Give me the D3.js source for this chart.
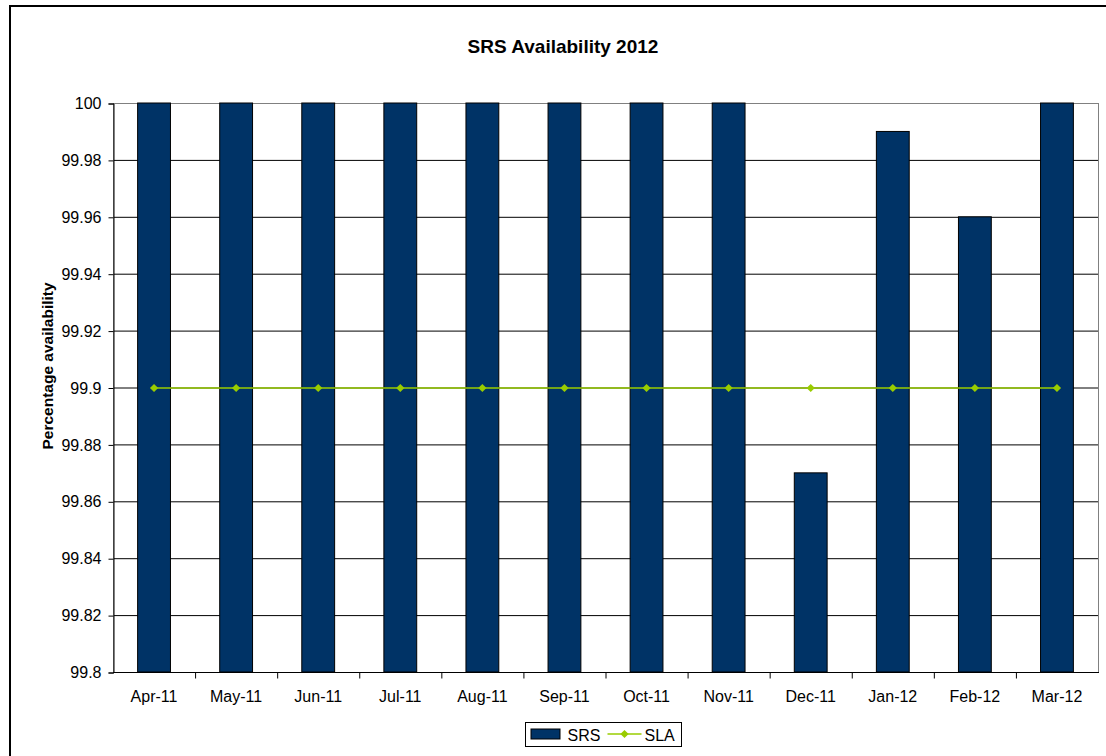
<!DOCTYPE html>
<html>
<head>
<meta charset="utf-8">
<script src="https://cdn.jsdelivr.net/npm/d3@7"></script>
<style>
  body { margin: 0; background: #fff; }
  svg text { font-family: "Liberation Sans", Arial, sans-serif; fill: #000; }
</style>
</head>
<body>
<svg id="chart" width="1106" height="756"></svg>
<script>
// dados do gráfico
var months = ["Apr-11", "May-11", "Jun-11", "Jul-11", "Aug-11", "Sep-11",
              "Oct-11", "Nov-11", "Dec-11", "Jan-12", "Feb-12", "Mar-12"];
var srsValues = [100, 100, 100, 100, 100, 100, 100, 100, 99.87, 99.99, 99.96, 100];
var slaValues = [99.9, 99.9, 99.9, 99.9, 99.9, 99.9, 99.9, 99.9, 99.9, 99.9, 99.9, 99.9];
var yTicks = [99.8, 99.82, 99.84, 99.86, 99.88, 99.9, 99.92, 99.94, 99.96, 99.98, 100];

// área do gráfico
var plot = {left: 113, top: 103, right: 1098, bottom: 672};

var svg = d3.select("#chart");

// moldura externa
svg.append("rect")
   .attr("x", 10).attr("y", 6)
   .attr("width", 1110).attr("height", 760)
   .style("fill", "none")
   .style("stroke", "#000")
   .style("stroke-width", 2);

// título
svg.append("text")
   .attr("x", 563).attr("y", 53)
   .attr("text-anchor", "middle")
   .style("font-size", "19px")
   .style("font-weight", "bold")
   .text("SRS Availability 2012");

// escalas
var xScale = d3.scaleBand()
   .domain(months)
   .range([plot.left, plot.right])
   .paddingInner(0.6)
   .paddingOuter(0.3);

var xCat = d3.scaleBand()
   .domain(months)
   .range([plot.left, plot.right]);

var yScale = d3.scaleLinear()
   .domain([99.8, 100])
   .range([plot.bottom, plot.top]);

// linhas de grade
svg.append("g")
   .selectAll("line")
   .data(yTicks.slice(1))
   .enter().append("line")
   .attr("x1", plot.left).attr("x2", plot.right)
   .attr("y1", function(d) { return yScale(d) + 0.5; })
   .attr("y2", function(d) { return yScale(d) + 0.5; })
   .style("stroke", "#000")
   .style("stroke-width", 1);

// borda da área do gráfico
svg.append("rect")
   .attr("x", plot.left + 0.5).attr("y", plot.top + 0.5)
   .attr("width", plot.right - plot.left).attr("height", plot.bottom - plot.top)
   .style("fill", "none")
   .style("stroke", "#808080")
   .style("stroke-width", 1);

// barras SRS
svg.append("g")
   .selectAll("rect")
   .data(srsValues)
   .enter().append("rect")
   .attr("x", function(d, i) { return xScale(months[i]); })
   .attr("y", function(d) { return yScale(d); })
   .attr("width", xScale.bandwidth())
   .attr("height", function(d) { return yScale(99.8) - yScale(d); })
   .style("fill", "#003366")
   .style("stroke", "#000")
   .style("stroke-width", 1);

// eixo Y
var yAxis = d3.axisLeft(yScale)
   .tickValues(yTicks)
   .tickSize(5)
   .tickPadding(7)
   .tickFormat(function(d) { return String(+d.toFixed(2)); });

var yAxisG = svg.append("g")
   .attr("transform", "translate(" + (plot.left + 0.5) + ",0.5)")
   .call(yAxis);
yAxisG.attr("font-size", null).attr("font-family", null);
yAxisG.select(".domain").style("stroke", "#000");
yAxisG.selectAll(".tick line").style("stroke", "#000");
yAxisG.selectAll("text").style("font-size", "16px");

// eixo X (ticks entre as categorias)
var xAxisG = svg.append("g")
   .attr("transform", "translate(0," + (plot.bottom + 0.5) + ")");
xAxisG.append("line")
   .attr("x1", plot.left).attr("x2", plot.right + 1)
   .style("stroke", "#000");
xAxisG.selectAll(".xtick")
   .data(months.slice(1))
   .enter().append("line")
   .attr("x1", function(d) { return xCat(d) + 0.5; })
   .attr("x2", function(d) { return xCat(d) + 0.5; })
   .attr("y1", 0).attr("y2", 6)
   .style("stroke", "#000");
xAxisG.selectAll(".xlabel")
   .data(months)
   .enter().append("text")
   .attr("x", function(d) { return xCat(d) + xCat.bandwidth() / 2; })
   .attr("y", 29)
   .attr("text-anchor", "middle")
   .style("font-size", "16px")
   .text(function(d) { return d; });

// linha SLA
var line = d3.line()
   .x(function(d, i) { return xCat(months[i]) + xCat.bandwidth() / 2; })
   .y(function(d) { return yScale(d) + 0.5; });

svg.append("path")
   .datum(slaValues)
   .attr("d", line)
   .style("fill", "none")
   .style("stroke", "#99CC00")
   .style("stroke-width", 1.5);

var diamond = d3.symbol().type(d3.symbolSquare).size(34);
svg.append("g")
   .selectAll("path")
   .data(slaValues)
   .enter().append("path")
   .attr("d", diamond)
   .attr("transform", function(d, i) {
      return "translate(" + (xCat(months[i]) + xCat.bandwidth() / 2) + "," + (yScale(d) + 0.5) + ") rotate(45)";
   })
   .style("fill", "#99CC00");

// rótulo do eixo Y
svg.append("text")
   .attr("transform", "translate(52.5,366) rotate(-90)")
   .attr("text-anchor", "middle")
   .style("font-size", "15.5px")
   .style("font-weight", "bold")
   .text("Percentage availability");

// legenda
var legend = svg.append("g").attr("transform", "translate(525.5,722.5)");
legend.append("rect")
   .attr("width", 156).attr("height", 24)
   .style("fill", "#fff")
   .style("stroke", "#000");
legend.append("rect")
   .attr("x", 5.5).attr("y", 6.5)
   .attr("width", 29).attr("height", 10)
   .style("fill", "#003366")
   .style("stroke", "#000");
legend.append("text")
   .attr("x", 42).attr("y", 18)
   .style("font-size", "16px")
   .text("SRS");
legend.append("line")
   .attr("x1", 82).attr("x2", 116)
   .attr("y1", 11.5).attr("y2", 11.5)
   .style("stroke", "#99CC00")
   .style("stroke-width", 1.5);
legend.append("path")
   .attr("d", diamond)
   .attr("transform", "translate(99,11.5) rotate(45)")
   .style("fill", "#99CC00");
legend.append("text")
   .attr("x", 119).attr("y", 18)
   .style("font-size", "16px")
   .text("SLA");
</script>
</body>
</html>
